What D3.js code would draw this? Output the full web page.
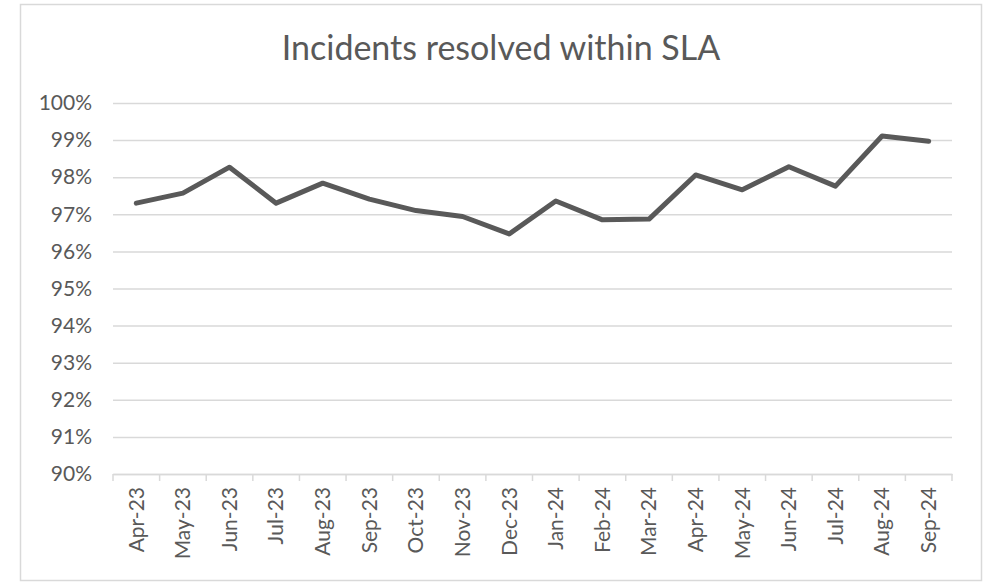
<!DOCTYPE html>
<html>
<head>
<meta charset="utf-8">
<script src="https://cdn.jsdelivr.net/npm/d3@7"></script>
<style>
  body { margin: 0; background: #fff; }
  text { font-family: Lato, "Open Sans", sans-serif; fill: #595959; }
</style>
</head>
<body>
<div id="chart"></div>
<script>
// Data
var months = ["Apr-23", "May-23", "Jun-23", "Jul-23", "Aug-23", "Sep-23", "Oct-23", "Nov-23", "Dec-23",
              "Jan-24", "Feb-24", "Mar-24", "Apr-24", "May-24", "Jun-24", "Jul-24", "Aug-24", "Sep-24"];
var resolvedPct = [0.9730, 0.9757, 0.9827, 0.9730, 0.9784, 0.9741, 0.9710, 0.9694, 0.9647,
                   0.9736, 0.9685, 0.9687, 0.9806, 0.9766, 0.9828, 0.9776, 0.9911, 0.9897];
var yTicks = [0.90, 0.91, 0.92, 0.93, 0.94, 0.95, 0.96, 0.97, 0.98, 0.99, 1.00];
var title = "Incidents resolved within SLA";

var width = 987, height = 582;
var plot = {left: 113, right: 952, top: 103, bottom: 474};

var svg = d3.select("#chart")
  .append("svg")
  .attr("width", width)
  .attr("height", height);

// Chart border
svg.append("rect")
  .attr("x", 20.5).attr("y", 4.5)
  .attr("width", 961).attr("height", 576)
  .attr("fill", "#fff")
  .attr("stroke", "#d9d9d9")
  .attr("stroke-width", 1.5);

// Scales
var x = d3.scaleBand()
  .domain(months)
  .range([plot.left, plot.right])
  .padding(0);

var y = d3.scaleLinear()
  .domain([0.90, 1.00])
  .range([plot.bottom, plot.top]);

// Title
svg.append("text")
  .attr("x", 501)
  .attr("y", 60)
  .attr("text-anchor", "middle")
  .style("font-size", "34px")
  .text(title);

// Gridlines + y labels
var yAxis = svg.append("g")
  .attr("transform", "translate(" + plot.left + ",0)")
  .call(d3.axisLeft(y)
    .tickValues(yTicks)
    .tickFormat(d3.format(".0%"))
    .tickSize(-(plot.right - plot.left))
    .tickPadding(21));

yAxis.select(".domain").remove();
yAxis.selectAll(".tick line")
  .attr("stroke", "#d9d9d9")
  .attr("stroke-width", 1.5);
yAxis.selectAll(".tick text")
  .style("font-size", "21px")
  .attr("fill", "#595959");

// X axis (labels rotated)
var xAxis = svg.append("g")
  .attr("transform", "translate(0," + plot.bottom + ")")
  .call(d3.axisBottom(x).tickSize(0).tickPadding(0));

xAxis.select(".domain")
  .attr("stroke", "#d9d9d9")
  .attr("stroke-width", 1.5);
xAxis.selectAll(".tick text")
  .style("font-size", "21px")
  .attr("fill", "#595959")
  .attr("transform", "rotate(-90)")
  .attr("text-anchor", "end")
  .attr("x", -13)
  .attr("y", 0)
  .attr("dy", "0.35em");

// Tick marks at category boundaries
var boundaries = months.map(function(m) { return x(m); }).concat([plot.right]);
svg.append("g")
  .selectAll("line")
  .data(boundaries)
  .enter().append("line")
  .attr("x1", function(d) { return d; })
  .attr("x2", function(d) { return d; })
  .attr("y1", plot.bottom)
  .attr("y2", plot.bottom + 7)
  .attr("stroke", "#d9d9d9")
  .attr("stroke-width", 1.5);

// Line
var line = d3.line()
  .x(function(d, i) { return x(months[i]) + x.bandwidth() / 2; })
  .y(function(d) { return y(d); });

svg.append("path")
  .datum(resolvedPct)
  .attr("fill", "none")
  .attr("stroke", "#595959")
  .attr("stroke-width", 5)
  .attr("stroke-linejoin", "round")
  .attr("stroke-linecap", "round")
  .attr("d", line);
</script>
</body>
</html>
